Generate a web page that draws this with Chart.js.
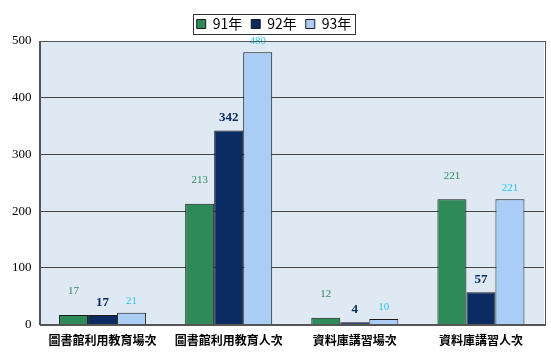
<!DOCTYPE html>
<html><head><meta charset="utf-8">
<script src="https://cdn.jsdelivr.net/npm/chart.js@4"></script>
<style>html,body{margin:0;padding:0;background:#fff}#w{width:551px;height:359px;position:relative}</style>
</head><body><div id="w"><canvas id="c"></canvas></div>
<script>
const categories = ['圖書館利用教育場次','圖書館利用教育人次','資料庫講習場次','資料庫講習人次'];
const seriesNames = ['91年','92年','93年'];
const s91 = [17, 213, 12, 221];
const s92 = [17, 342, 4, 57];
const s93 = [21, 480, 10, 221];
const yTicks = [0,100,200,300,400,500];

const fills = ['#2f8a5a','#0b2c63','#a9cdf4'];
const labelColors = ['#2f8a5a','#0b2c63','#29c4ef'];
const labelFonts = ['11px "Liberation Serif", serif','bold 13px "Liberation Serif", serif','11px "Liberation Serif", serif'];

const bgPlugin = {
  id:'bg',
  beforeDraw(chart){
    const {ctx, chartArea:a} = chart;
    ctx.save();
    ctx.fillStyle = '#dfe9f4';
    ctx.fillRect(a.left, a.top, a.right-a.left, a.bottom-a.top);
    ctx.restore();
  },
  afterDraw(chart){
    const {ctx, chartArea:a} = chart;
    ctx.save();
    ctx.strokeStyle = '#555';
    ctx.lineWidth = 1;
    ctx.strokeRect(Math.round(a.left)+0.5, Math.round(a.top)+0.5, Math.round(a.right-a.left), Math.round(a.bottom-a.top));
    const hb = chart.legend.legendHitBoxes;
    const x0 = hb[0].left - 4, x1 = hb[hb.length-1].left + hb[hb.length-1].width + 3;
    const y0 = hb[0].top - 3, y1 = hb[0].top + hb[0].height + 3;
    ctx.strokeStyle = '#333';
    ctx.strokeRect(Math.round(x0)+0.5, Math.round(y0)+0.5, Math.round(x1-x0), Math.round(y1-y0));
    ctx.restore();
  }
};
const labelPlugin = {
  id:'lbl',
  afterDatasetsDraw(chart){
    const ctx = chart.ctx;
    ctx.save();
    chart.data.datasets.forEach((ds,i)=>{
      const meta = chart.getDatasetMeta(i);
      meta.data.forEach((bar,j)=>{
        ctx.font = labelFonts[i];
        ctx.fillStyle = labelColors[i];
        ctx.textAlign = 'center';
        ctx.textBaseline = 'bottom';
        const off = i===0 ? 18 : 6;
        ctx.fillText(String(ds.data[j]), bar.x, bar.y - off);
      });
    });
    ctx.restore();
  }
};

new Chart(document.getElementById('c'), {
  type:'bar',
  data:{
    labels: categories,
    datasets: [s91,s92,s93].map((d,i)=>({
      label: seriesNames[i], data: d,
      backgroundColor: fills[i], borderColor:'#1a1a1a', borderWidth:1,
      categoryPercentage:0.69, barPercentage:1
    }))
  },
  options:{
    responsive:true, maintainAspectRatio:false, animation:false,
    layout:{padding:{top:8,right:7,left:4,bottom:2}},
    plugins:{
      legend:{
        display:true, position:'top',
        labels:{boxWidth:9, boxHeight:9, padding:9, color:'#000',
          font:{family:'"Noto Sans CJK TC", sans-serif', size:14}},
      },
      tooltip:{enabled:false}
    },
    scales:{
      x:{
        grid:{display:false, drawTicks:false},
        border:{color:'#555'},
        ticks:{color:'#000', padding:9, font:{family:'"Noto Sans CJK TC", sans-serif', size:12, weight:'bold'}}
      },
      y:{
        min:0, max:500,
        afterBuildTicks(ax){ ax.ticks = yTicks.map(v=>({value:v})); },
        grid:{color:'#444', drawTicks:false},
        border:{color:'#555'},
        ticks:{color:'#000', padding:8, font:{family:'"Liberation Serif", serif', size:13}}
      }
    }
  },
  plugins:[bgPlugin,labelPlugin]
});
</script></body></html>
